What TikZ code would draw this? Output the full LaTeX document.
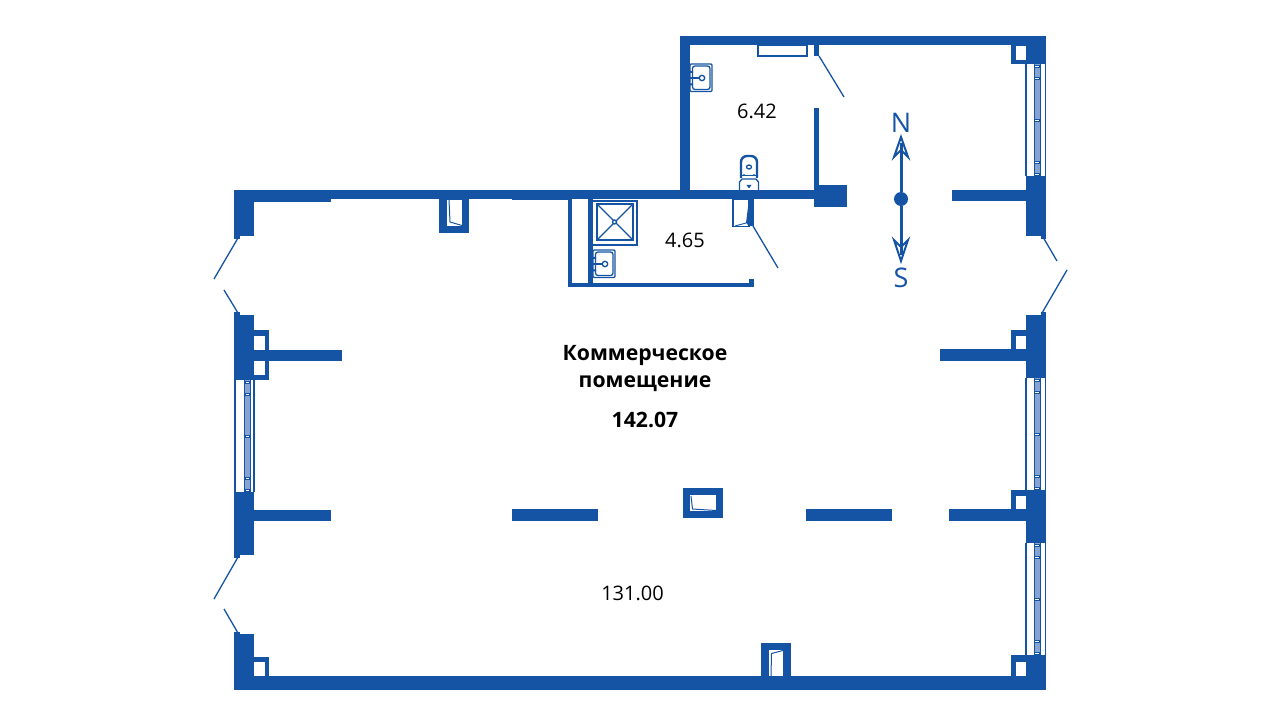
\documentclass[tikz,border=0pt]{standalone}
\usepackage{fontspec}
\setmainfont{Open Sans}
\definecolor{bp}{HTML}{1553A4}
\definecolor{glass}{HTML}{86A3D2}
\newcommand{\wl}[4]{\fill[wallfill] (#1,#2) rectangle (#3,#4);}
\newcommand{\hl}[4]{\fill[white] (#1,#2) rectangle (#3,#4);}
\newcommand{\winV}[5]{% top, left, right, mull1, mull2
  \draw[thinline] (#2,#1) -- (#2,#1+112) (#3,#1) -- (#3,#1+112);
  \fill[glass] (#4,#1) rectangle (#5,#1+112);
  \draw[thinline,line width=1] (#4,#1) -- (#4,#1+112) (#5,#1) -- (#5,#1+112);
  \foreach \dy in {2,14,56,98,110}{\fill[white,draw=bp,line width=0.3] (#4+0.5,#1+\dy-1.2) rectangle (#5-0.5,#1+\dy+1.2);}
}
\newcommand{\sinkunit}[2]{% left x, top y
  \begin{scope}[shift={(#1,#2)}]
  \draw[fixture,rounded corners=1] (0,0) rectangle (22,27.5);
  \draw[fixture,rounded corners=2.5] (2.5,2) rectangle (20,25.5);
  \draw[fixture,line width=1.6] (0,14) -- (10,14);
  \draw[fixture,fill=white,line width=1.3] (12,14) circle (2.7);
  \fill[bp] (0,7) rectangle (3,9) (0,19.5) rectangle (3,21.5);
  \end{scope}
}
\tikzset{
  wallfill/.style={fill=bp},
  thinline/.style={draw=bp,line width=1.2},
  doorline/.style={draw=bp,line width=1.3},
  fixture/.style={draw=bp,line width=1.3},
  shaftline/.style={draw=bp,line width=1},
  label/.style={text=black,font=\fontsize{20}{24}\selectfont,inner sep=0},
  biglabel/.style={text=black,font=\fontsize{21.2}{25}\selectfont\bfseries,inner sep=0},
  compass/.style={text=bp,font=\fontsize{27}{30}\selectfont,inner sep=0},
  needle/.style={draw=bp,fill=white,line width=2,line join=miter}
}
\begin{document}
\begin{tikzpicture}[x=1pt,y=-1pt]
\useasboundingbox (0,0) rectangle (1280,727);
\fill[white] (0,0) rectangle (1280,727);
% windows
\winV{64}{1026}{1045.5}{1034}{1040}
\winV{378}{1026}{1045.5}{1034}{1040}
\winV{543}{1026}{1045.5}{1034}{1040}
\winV{380}{235}{254}{244.5}{250}
% upper room outer walls
\wl{680}{36.5}{690}{199}
\wl{680}{36.5}{1046}{45.5}
% NE corner
\wl{1011}{36.5}{1046}{64}
\hl{1016}{46}{1026}{60}
% right side piers
\wl{1026}{176}{1046}{236}
\wl{1041}{236}{1046}{239}
\wl{952}{190}{1026}{201}
\wl{1026}{315}{1046}{378}
\wl{1041}{312}{1046}{315}
\wl{940}{349}{1026}{361}
\wl{1011}{330}{1026}{349}
\hl{1016}{336}{1026}{349}
\wl{1026}{490}{1046}{543}
\wl{949}{509}{1026}{521}
\wl{1011}{490}{1026}{509}
\hl{1016}{496}{1026}{509}
% SE corner and bottom wall
\wl{1011}{655}{1046}{690}
\hl{1016}{662}{1026}{676}
\wl{234}{676}{1046}{690}
% left side
\wl{234}{190}{254}{236}
\wl{234}{236}{240}{239}
\wl{234}{190}{331}{202}
\wl{331}{190}{814}{199}
\wl{512}{190}{568}{200.5}
\wl{234}{315}{254}{380}
\wl{234}{312}{240}{315}
\wl{254}{330}{269}{380}
\hl{254}{336}{265}{350}
\hl{254}{361}{265}{375}
\wl{254}{350}{342}{361}
\wl{234}{492}{254}{555}
\wl{234}{555}{240}{558}
\wl{254}{510}{331}{521}
\wl{234}{634}{254}{690}
\wl{234}{632}{240}{634}
\wl{254}{657}{269}{676}
\hl{254}{662}{265}{676}
% free-standing walls
\wl{512}{509}{598}{521}
\wl{806}{509}{892}{521}
% columns
\wl{439}{199}{469}{233}
\hl{447}{200}{462}{226}
\draw[shaftline] (449,200) -- (450,222) -- (462,225.5);
\wl{683}{488}{723}{518}
\hl{690}{495}{716}{511}
\draw[shaftline] (691,496) -- (692.5,509) -- (716,510.5);
\wl{761}{643}{791}{676}
\hl{769}{650}{783}{676}
\draw[shaftline] (771,676) -- (771.5,653.5) -- (783,650.5);
% partitions
\wl{814}{45}{819}{56}
\wl{814}{108}{819}{190}
\wl{814}{185}{847}{207}
\wl{568}{199}{572}{287}
\wl{588}{199}{593}{287}
\wl{568}{283}{754}{287}
\wl{749}{279}{754}{287}
% upper fixtures
\draw[fixture] (758,45.5) rectangle (807,56);
\sinkunit{690}{64}
% toilet
\draw[fixture,line width=2.4,rounded corners=6] (741,178) -- (741,156) -- (757,156) -- (757,178);
\draw[fixture] (739.5,190) -- (739.5,182) -- (742,179) -- (756,179) -- (758.5,182) -- (758.5,190);
\draw[fixture] (749,167) ellipse (2.5 and 2);
\fill[bp] (746.5,185) -- (751.5,185) -- (749,188.5) -- cycle;
\fill[bp] (743,174.5) rectangle (745,176) (753,174.5) rectangle (755,176);
\draw[fixture,line width=0.7] (741,175.3) -- (757,175.3);
% cupboard
\draw[fixture] (733,199) rectangle (749,226.5);
\wl{749}{199}{754}{226}
\fill[bp] (749,199) -- (746,223) -- (749,226) -- cycle;
\draw[fixture,line width=0.9] (735,226) -- (746,223);
% shower and lower sink
\draw[fixture] (593,201) -- (637,201) -- (637,245) -- (593,245);
\draw[fixture] (597,204) rectangle (633,240);
\draw[fixture] (597,204) -- (633,240) (633,204) -- (597,240);
\draw[fixture,fill=white] (614.5,222) circle (2);
\sinkunit{593}{250}
% doors
\coordinate (d1a) at (819,56); \coordinate (d1b) at (844,97);
\draw[doorline] (d1a) -- (d1b);
\coordinate (d2a) at (753,226); \coordinate (d2b) at (778,268);
\draw[doorline] (d2a) -- (d2b);
\coordinate (d3a) at (1043,237); \coordinate (d3b) at (1057,261);
\draw[doorline] (d3a) -- (d3b);
\coordinate (d4a) at (1042,313); \coordinate (d4b) at (1067,270);
\draw[doorline] (d4a) -- (d4b);
\coordinate (d5a) at (238,238); \coordinate (d5b) at (214,279);
\draw[doorline] (d5a) -- (d5b);
\coordinate (d6a) at (238,313); \coordinate (d6b) at (224,290);
\draw[doorline] (d6a) -- (d6b);
\coordinate (d7a) at (238,557); \coordinate (d7b) at (214,599);
\draw[doorline] (d7a) -- (d7b);
\coordinate (d8a) at (238,633); \coordinate (d8b) at (224,609);
\draw[doorline] (d8a) -- (d8b);
% compass
\node[compass] (north) at (901,122.5) {N};
\node[compass] (south) at (901,277.5) {S};
\node[circle,fill=bp,minimum size=14,inner sep=0] (hub) at (901,199) {};
\coordinate (ntip) at (901,137);
\coordinate (stip) at (901,261);
\draw[needle] (ntip) -- (894,157) -- (901,150) -- (908,157) -- cycle;
\draw[needle] (stip) -- (894,240) -- (901,247) -- (908,240) -- cycle;
\draw[bp,line width=3] (hub) -- (901,143);
\draw[bp,line width=3] (hub) -- (901,255);
% text
\node[label] (a1) at (757,111) {6.42};
\node[label] (a2) at (685,240) {4.65};
\node[label] (a3) at (632.5,593) {131.00};
\node[biglabel] (t1) at (645,355) {Коммерческое};
\node[biglabel] (t2) at (645,384) {помещение};
\node[biglabel] (t3) at (645,420) {142.07};
\end{tikzpicture}
\end{document}
